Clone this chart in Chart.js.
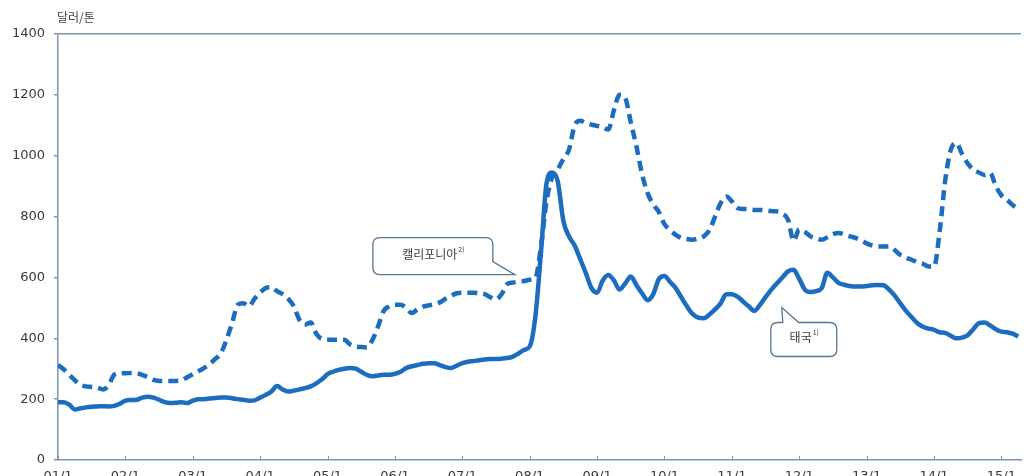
<!DOCTYPE html>
<html>
<head>
<meta charset="utf-8">
<script src="https://cdn.jsdelivr.net/npm/chart.js@4.4.1/dist/chart.umd.min.js"></script>
<style>
  html, body { margin: 0; padding: 0; background: #fff; overflow: hidden; }
  #wrap { width: 1025px; height: 491px; position: relative; }
</style>
</head>
<body>
<div id="wrap"><canvas id="rice-price"></canvas></div>
<script>
// monthly export prices, 2001/1 - 2015/4 (달러/톤)
var years = ['01','02','03','04','05','06','07','08','09','10','11','12','13','14','15'];
var yearTicks = years.map(function(y) { return y + '/1'; });

var thailand = [
  190, 190, 182, 166, 170, 173, 175, 176, 177, 176, 178, 185,   // 2001
  195, 197, 198, 205, 208, 205, 198, 190, 187, 188, 190, 187,   // 2002
  195, 200, 200, 202, 204, 205, 205, 203, 200, 198, 195, 196,   // 2003
  205, 214, 225, 243, 232, 225, 228, 232, 236, 242, 252, 265,   // 2004
  282, 290, 296, 300, 302, 300, 290, 280, 275, 278, 280, 280,   // 2005
  283, 290, 302, 308, 312, 316, 318, 318, 312, 305, 302, 310,   // 2006
  318, 323, 325, 328, 330, 332, 332, 333, 335, 340, 350, 362,   // 2007
  373, 470, 680, 910, 945, 915, 785, 735, 705, 660, 614, 565,   // 2008
  550, 590, 608, 590, 560, 580, 603, 575, 548, 525, 545, 595,   // 2009
  605, 585, 565, 535, 505, 480, 468, 466, 478, 495, 515, 545,   // 2010
  545, 537, 521, 505, 490, 510, 535, 559, 580, 600, 620, 625,   // 2011
  595, 560, 552, 555, 565, 615, 600, 582, 576, 572, 570, 570,   // 2012
  572, 574, 575, 574, 560, 540, 515, 490, 470, 450, 438, 432,   // 2013
  428, 420, 418, 408, 400, 402, 410, 430, 450, 452, 442, 430,   // 2014
  422, 420, 415, 406                                            // 2015
];

var california = [
  312, 298, 280, 262, 247, 242, 240, 238, 232, 245, 280, 285,
  285, 286, 285, 280, 272, 263, 260, 260, 260, 260, 262, 272,
  282, 292, 302, 315, 332, 351, 395, 450, 510, 515, 505, 530,
  550, 565, 568, 555, 545, 530, 505, 460, 445, 452, 415, 398,
  396, 395, 395, 395, 380, 373, 371, 370, 395, 439, 490, 505,
  510, 510, 500, 483, 495, 504, 508, 512, 518, 530, 540, 548,
  550, 550, 550, 548, 545, 535, 528, 545, 578, 583, 586, 588,
  592, 598, 700, 850, 930, 955, 990, 1020, 1100, 1115, 1108, 1102,
  1098, 1094, 1086, 1150, 1200, 1190, 1110, 1031, 940, 877, 840, 815,
  775, 755, 740, 730, 726, 724, 728, 735, 755, 800, 844, 866,
  850, 828, 825, 824, 822, 822, 820, 818, 817, 810, 790, 720,
  758, 750, 735, 728, 724, 732, 742, 746, 742, 735, 730, 722,
  712, 705, 702, 702, 702, 690, 674, 665, 658, 650, 645, 636,
  636, 750, 920, 1020, 1042, 1005, 975, 954, 945, 937, 943, 900,
  870, 855, 838, 825
];

var lineBlue = '#1c6cc0';
var axisColor = '#7d96b0';
var textColor = '#3a3a3a';
var korFont = '"Noto Sans CJK KR", "Noto Sans", sans-serif';

function toPoints(arr) {
  return arr.map(function(v, i) { return { x: i, y: v }; });
}

// unit label, inner x ticks and the two speech-bubble callouts
var decorations = {
  id: 'decorations',
  afterDatasetsDraw: function(chart) {
    var ctx = chart.ctx;
    var xs = chart.scales.x, ys = chart.scales.y;
    var area = chart.chartArea;

    ctx.save();
    ctx.fillStyle = '#444';
    ctx.font = '12px ' + korFont;
    ctx.textBaseline = 'alphabetic';
    ctx.textAlign = 'left';
    ctx.fillText('달러/톤', area.left - 1, area.top - 12);

    // small tick marks sitting on the x axis
    ctx.strokeStyle = axisColor;
    ctx.lineWidth = 1;
    xs.ticks.forEach(function(t) {
      if (t.value % 12 !== 0) return;
      var px = Math.round(xs.getPixelForValue(t.value)) + 0.5;
      ctx.beginPath();
      ctx.moveTo(px, area.bottom);
      ctx.lineTo(px, area.bottom - 4);
      ctx.stroke();
    });

    function bubble(box, tail, label, sup) {
      var r = 7;
      ctx.beginPath();
      ctx.moveTo(box.l + r, box.t);
      if (tail.side === 'top') {
        ctx.lineTo(tail.b1, box.t);
        ctx.lineTo(tail.x, tail.y);
        ctx.lineTo(tail.b2, box.t);
      }
      ctx.lineTo(box.r - r, box.t);
      ctx.quadraticCurveTo(box.r, box.t, box.r, box.t + r);
      if (tail.side === 'right') {
        ctx.lineTo(box.r, tail.b1);
        ctx.lineTo(tail.x, tail.y);
        ctx.lineTo(tail.b2, box.b);
      } else {
        ctx.lineTo(box.r, box.b - r);
        ctx.quadraticCurveTo(box.r, box.b, box.r - r, box.b);
      }
      ctx.lineTo(box.l + r, box.b);
      ctx.quadraticCurveTo(box.l, box.b, box.l, box.b - r);
      ctx.lineTo(box.l, box.t + r);
      ctx.quadraticCurveTo(box.l, box.t, box.l + r, box.t);
      ctx.closePath();
      ctx.fillStyle = '#ffffff';
      ctx.fill();
      ctx.strokeStyle = '#58768f';
      ctx.lineWidth = 1.3;
      ctx.stroke();

      ctx.fillStyle = textColor;
      ctx.font = '12px ' + korFont;
      ctx.textBaseline = 'middle';
      ctx.textAlign = 'left';
      var w1 = ctx.measureText(label).width;
      ctx.font = '7px ' + korFont;
      var w2 = ctx.measureText(sup).width;
      var sx = (box.l + box.r) / 2 - (w1 + w2) / 2;
      var cy = (box.t + box.b) / 2 - 2;
      ctx.font = '12px ' + korFont;
      ctx.fillText(label, sx, cy);
      ctx.font = '7px ' + korFont;
      ctx.fillText(sup, sx + w1 + 1, cy - 5);
    }

    // California callout, tail pointing at the dashed line before the 2008 jump
    var cx = xs.getPixelForValue(81) + 2;
    var cy = ys.getPixelForValue(california[81]) - 8;
    bubble({ l: cx - 142, r: cx - 22, t: cy - 37, b: cy },
           { side: 'right', x: cx, y: cy, b1: cy - 13, b2: cx - 36 },
           '캘리포니아', '2)');

    // Thailand callout below the solid line
    var tx = xs.getPixelForValue(128) + 5;
    var ty = ys.getPixelForValue(thailand[128]) + 24;
    bubble({ l: tx - 11, r: tx + 55, t: ty + 15, b: ty + 49 },
           { side: 'top', x: tx, y: ty, b1: tx + 1, b2: tx + 17 },
           '태국', '1)');

    ctx.restore();
  }
};

new Chart(document.getElementById('rice-price'), {
  type: 'line',
  data: {
    datasets: [{
        label: '태국',
        data: toPoints(thailand),
        borderColor: lineBlue,
        borderWidth: 4.5,
        pointRadius: 0,
        cubicInterpolationMode: 'monotone',
        fill: false
      }, {
        label: '캘리포니아',
        data: toPoints(california),
        borderColor: lineBlue,
        borderWidth: 4.5,
        borderDash: [10, 6],
        pointRadius: 0,
        cubicInterpolationMode: 'monotone',
        fill: false
      }
    ]
  },
  options: {
    responsive: true,
    maintainAspectRatio: false,
    animation: false,
    layout: { padding: { top: 34, left: 0, right: 0, bottom: 0 } },
    plugins: {
      legend: { display: false },
      tooltip: { enabled: false },
      title: { display: false }
    },
    scales: {
      x: {
        type: 'linear',
        min: 0,
        max: 171.5,
        afterFit: function(s) { s.height = 31; },
        grid: { display: false, drawTicks: false },
        border: { display: true, color: axisColor, width: 1.5 },
        ticks: {
          stepSize: 12,
          includeBounds: false,
          autoSkip: false,
          maxRotation: 0,
          padding: 9,
          color: textColor,
          font: { family: 'DejaVu Sans', size: 13 },
          callback: function(v) {
            var k = v / 12;
            return Number.isInteger(k) && yearTicks[k] ? yearTicks[k] : '';
          }
        }
      },
      y: {
        min: 0,
        max: 1400,
        afterFit: function(s) { s.width = 58; },
        grid: {
          drawOnChartArea: true,
          color: function(c) { return c.tick && c.tick.value === 1400 ? axisColor : 'transparent'; },
          lineWidth: 1.5,
          tickColor: axisColor,
          tickLength: 4
        },
        border: { display: true, color: axisColor, width: 1.5 },
        ticks: {
          stepSize: 200,
          padding: 9,
          color: textColor,
          font: { family: 'DejaVu Sans', size: 13 },
          callback: function(v) { return String(v); }
        }
      }
    }
  },
  plugins: [decorations]
});
</script>
</body>
</html>
